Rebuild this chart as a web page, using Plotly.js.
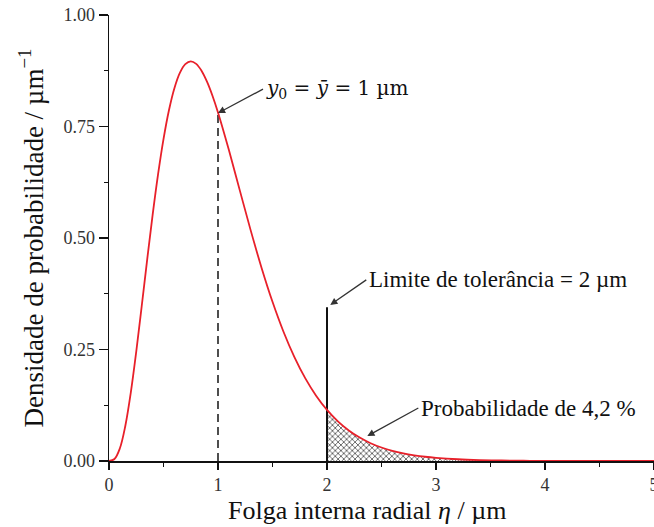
<!DOCTYPE html>
<html>
<head>
<meta charset="utf-8">
<script src="https://cdn.plot.ly/plotly-3.0.1.min.js"></script>
<style>html,body{margin:0;padding:0;background:#fff;}#chart{width:654px;height:527px;}</style>
</head>
<body>
<div id="chart"></div>
<script>
// Curve (probability density vs radial clearance)
const eta = [0,0.05,0.1,0.15,0.2,0.25,0.3,0.35,0.4,0.45,0.5,0.55,0.6,0.65,0.7,0.75,0.8,0.85,0.9,0.95,1.0,1.1,1.2,1.3,1.4,1.5,1.6,1.7,1.8,1.9,2.0,2.1,2.2,2.3,2.4,2.5,2.6,2.7,2.8,2.9,3.0,3.2,3.4,3.6,3.8,4.0,4.5,5.0];
const density = [0,0.0044,0.0286,0.079,0.1534,0.2453,0.347,0.4511,0.5513,0.6427,0.7218,0.7865,0.836,0.8703,0.8899,0.8962,0.8905,0.8745,0.8499,0.8184,0.7815,0.6972,0.6068,0.5171,0.4329,0.3569,0.2904,0.2335,0.1858,0.1465,0.1145,0.0889,0.0685,0.0525,0.0399,0.0303,0.0228,0.0171,0.0128,0.0095,0.0071,0.0039,0.0021,0.0011,0.0006,0.0003,0.0001,0.0000];

const meanX = [1, 1];
const meanY = [0, 0.7815];
const limitX = [2, 2];
const limitY = [0, 0.345];
const tailStart = 2;

const xTicks = [0,1,2,3,4,5];
const yTicks = [0,0.25,0.5,0.75,1.0];

const xTitle = 'Folga interna radial <i>η</i> / µm';
const yTitle = 'Densidade de probabilidade / µm<sup>−1</sup>';

const tailX = [], tailY = [];
for (let i = 0; i < eta.length; i++) {
  if (eta[i] >= tailStart) { tailX.push(eta[i]); tailY.push(density[i]); }
}

const serif = 'Liberation Serif, Times New Roman, serif';

const traces = [
  {x: tailX, y: tailY, type: 'scatter', mode: 'lines', line: {width: 0, shape: 'spline'},
   fill: 'tozeroy', fillcolor: 'rgba(255,255,255,1)',
   fillpattern: {shape: 'x', size: 4, solidity: 0.35, fgcolor: '#444', bgcolor: '#fff'},
   hoverinfo: 'skip', showlegend: false},
  {x: meanX, y: meanY, type: 'scatter', mode: 'lines', line: {color: '#222', width: 1.6, dash: '8px,5px'}, showlegend: false},
  {x: limitX, y: limitY, type: 'scatter', mode: 'lines', line: {color: '#111', width: 2}, showlegend: false},
  {x: eta, y: density, type: 'scatter', mode: 'lines', line: {color: '#e8202a', width: 1.8, shape: 'spline'}, showlegend: false}
];

const arrowCommon = {showarrow: true, arrowhead: 2, arrowsize: 1.1, arrowwidth: 1.3, arrowcolor: '#333',
  xanchor: 'left', yanchor: 'middle', borderpad: 2, font: {family: serif, size: 23, color: '#111'}};

const layout = {
  width: 654, height: 527,
  margin: {l: 109, r: 0, t: 15, b: 66},
  paper_bgcolor: '#fff', plot_bgcolor: '#fff',
  xaxis: {
    range: [0, 5], tickvals: xTicks, ticktext: xTicks.map(String), ticklabeloverflow: 'allow',
    showgrid: false, zeroline: false, showline: true, linecolor: '#111', linewidth: 1.5,
    ticks: 'outside', ticklen: 7, tickwidth: 1.3, tickcolor: '#111',
    minor: {dtick: 0.5, ticks: 'outside', ticklen: 4, tickwidth: 1.2, tickcolor: '#111', showgrid: false},
    tickfont: {family: serif, size: 18, color: '#333'}
  },
  yaxis: {
    range: [0, 1], tickvals: yTicks, tickformat: '.2f', ticklabeloverflow: 'allow',
    showgrid: false, zeroline: false, showline: true, linecolor: '#111', linewidth: 1.5,
    ticks: 'outside', ticklen: 9, tickwidth: 1.3, tickcolor: '#111',
    minor: {dtick: 0.125, ticks: 'outside', ticklen: 4, tickwidth: 1.2, tickcolor: '#111', showgrid: false},
    tickfont: {family: serif, size: 18, color: '#333'},
    title: {text: yTitle, font: {family: serif, size: 27, color: '#111'}, standoff: 12}
  },
  annotations: [
    {xref: 'paper', yref: 'paper', x: 0.473, y: -0.112, xanchor: 'center', yanchor: 'middle', showarrow: false,
     text: xTitle, font: {family: serif, size: 26, color: '#111'}},
    Object.assign({}, arrowCommon, {x: 1.0, y: 0.78, ax: 45, ay: -24,
      text: '<i>y</i><sub>0</sub> = <i>y\u0304</i> = 1 µm', font: {family: 'DejaVu Serif, serif', size: 20, color: '#111'}}),
    Object.assign({}, arrowCommon, {x: 2.03, y: 0.35, ax: 36, ay: -25,
      text: 'Limite de tolerância = 2 µm'}),
    Object.assign({}, arrowCommon, {x: 2.37, y: 0.056, ax: 51, ay: -28,
      text: 'Probabilidade de 4,2 %'})
  ]
};

Plotly.newPlot('chart', traces, layout, {displayModeBar: false, staticPlot: true});
</script>
</body>
</html>
